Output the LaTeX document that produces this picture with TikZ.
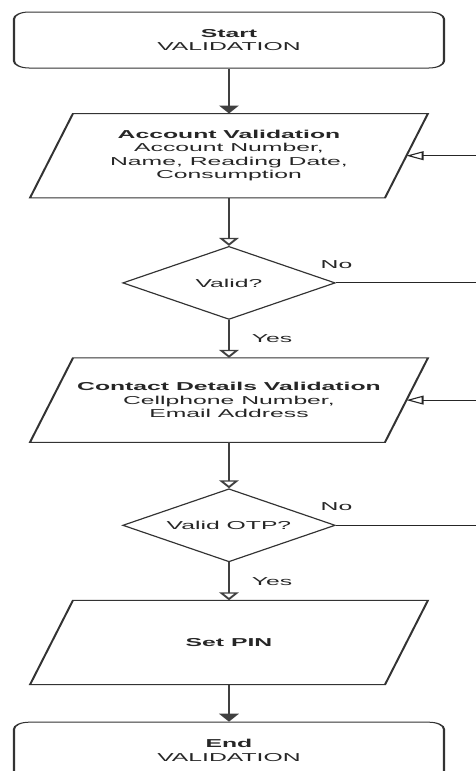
\documentclass[tikz,border=0pt]{standalone}
\usepackage{fontspec}
\setmainfont{Liberation Sans}
\usetikzlibrary{positioning,shapes.geometric,arrows.meta}

\begin{document}
\begin{tikzpicture}[x=1pt,y=1pt,
	txt/.style={font=\fontsize{11.5}{13.4}\selectfont,text=black!85,align=center},
	term/.style={txt,draw=black!80,line width=1pt,rounded corners=7pt,minimum width=200pt,minimum height=56pt},
	io/.style={txt,minimum width=164.7pt,minimum height=84pt,
		append after command={\pgfextra{\draw[draw=black!80,line width=1pt]
			([xshift=10pt]\tikzlastnode.north west)--([xshift=10pt]\tikzlastnode.north east)--
			([xshift=-10pt]\tikzlastnode.south east)--([xshift=-10pt]\tikzlastnode.south west)--cycle;}}},
	decide/.style={txt,draw=black!80,line width=1pt,diamond,aspect=1.356,minimum width=99pt,minimum height=73pt,inner sep=1pt},
	lbl/.style={txt,inner sep=0pt},
	flow/.style={draw=black!75,line width=1.2pt,-{Triangle[length=8pt,width=9pt]}},
	chk/.style={draw=black!75,line width=1.2pt,-{Triangle[open,length=8pt,width=9pt]}},
	back/.style={draw=black!85,line width=1pt,-{Triangle[open,length=8pt,width=9pt]}}]
	\useasboundingbox (0,0) rectangle (476,-771);
	
	\begin{scope}[transform canvas={xscale=2.15}]
		\node[term] (start) at (106.5,-40) {\textbf{Start}\\VALIDATION};
		
		\node[io,below=45pt of start] (acc) {\textbf{Account Validation}\\Account Number,\\Name, Reading Date,\\Consumption};
		
		\node[decide,below=48pt of acc] (valid) {Valid?};
		
		\node[io,below=38pt of valid] (contact) {\textbf{Contact Details Validation}\\Cellphone Number,\\Email Address};
		
		\node[decide,below=46pt of contact] (otp) {Valid OTP?};
		
		\node[io,below=38pt of otp] (pin) {\textbf{Set PIN}};
		
		\node[term,below=37pt of pin] (stop) {\textbf{End}\\VALIDATION};
		
		\draw[flow] (start.south)--(acc.north);
		\draw[chk] (acc.south)--(valid.north);
		\draw[chk] (valid.south)--(contact.north) node[lbl,midway,right=10pt] (yes1) {Yes};
		\draw[chk] (contact.south)--(otp.north);
		\draw[chk] (otp.south)--(pin.north) node[lbl,midway,right=10pt] (yes2) {Yes};
		\draw[flow] (pin.south)--(stop.north);
		
		% No branches loop back, out of the frame on the right
		\draw[back] (valid.east)--++(70pt,0)|-(acc.east);
		\draw[back] (otp.east)--++(70pt,0)|-(contact.east);
		\node[lbl,above=14pt of valid.east] (no1) {No};
		\node[lbl,above=14pt of otp.east] (no2) {No};
	\end{scope}
\end{tikzpicture}
\end{document}
